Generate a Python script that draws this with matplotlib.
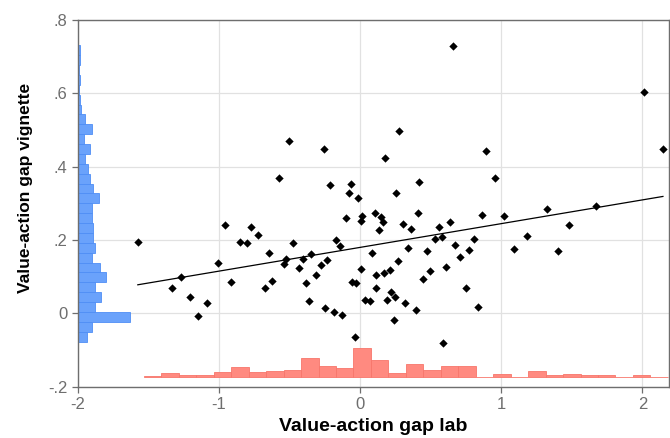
import numpy as np
import matplotlib
matplotlib.use("Agg")
import matplotlib.pyplot as plt

# =========================
# DATA
# =========================
gap_lab = [
    -0.507, -0.257, 0.174, 0.275, -0.576, -0.216, -0.062, -0.082, -0.016, 0.257,
    0.654, 2.009, 0.890, 2.145, 0.415, 0.954, -1.576, -0.956, -0.772, -0.727,
    -0.855, -0.805, -0.098, 0.013, 0.009, 0.108, 0.148, 0.162, 0.133, -0.174,
    -0.145, -0.474, -0.649, -0.528, -0.543, -0.406, -0.346, -0.233, -0.278, -0.436,
    -0.316, -0.384, 0.084, 0.006, 0.115, 0.172, 0.211, 0.268, -1.011, -1.268,
    -1.335, -1.209, -1.084, -1.148, -0.913, -0.677, -0.623, -0.360, -0.247, -0.188,
    -0.126, -0.055, -0.027, 0.034, 0.067, 0.115, 0.193, 0.216, 0.245, 0.240,
    -0.037, 0.410, 0.304, 0.358, 0.557, 0.637, 0.864, 1.016, 1.321, 1.670,
    1.479, 1.183, 1.089, 1.399, 0.530, 0.576, 0.803, 0.337, 0.470, 0.672,
    0.772, 0.708, 0.611, 0.493, 0.443, 0.318, 0.394, 0.746, 0.835, 0.590,
]
gap_vignette = [
    0.470, 0.447, 0.424, 0.498, 0.370, 0.349, 0.353, 0.328, 0.314, 0.329,
    0.730, 0.603, 0.442, 0.447, 0.359, 0.370, 0.194, 0.241, 0.235, 0.214,
    0.195, 0.191, 0.259, 0.265, 0.253, 0.274, 0.262, 0.248, 0.226, 0.200,
    0.184, 0.191, 0.164, 0.148, 0.136, 0.149, 0.163, 0.145, 0.132, 0.123,
    0.105, 0.082, 0.165, 0.120, 0.106, 0.110, 0.119, 0.142, 0.137, 0.098,
    0.070, 0.045, 0.029, -0.007, 0.085, 0.070, 0.088, 0.034, 0.014, 0.005,
    -0.004, 0.086, 0.083, 0.036, 0.034, 0.069, 0.036, 0.057, 0.045, -0.019,
    -0.064, 0.274, 0.245, 0.229, 0.235, 0.249, 0.267, 0.266, 0.285, 0.293,
    0.240, 0.211, 0.176, 0.169, 0.203, 0.207, 0.202, 0.178, 0.169, 0.187,
    0.173, 0.155, 0.127, 0.115, 0.094, 0.029, 0.009, 0.069, 0.018, -0.082,
]

# marginal histograms: 30 bins each, relative heights
vignette_range = (-0.077, 0.731)
vignette_hist = [9.3, 14, 51.7, 16.7, 23, 17.3, 27.7, 22.3, 14, 16.7,
                 15.3, 15.3, 13.7, 14, 21, 15, 11.7, 10, 6.7, 11.7,
                 5.7, 14.3, 7.3, 3.3, 1.7, 0.7, 2.3, 0.7, 2.3, 2.3]
lab_range = (-1.533, 2.18)
lab_hist = [1.7, 4, 2.7, 2.7, 5, 10, 5, 6, 7.3, 19.3,
            11.3, 9.7, 29, 17.3, 4.7, 13.3, 7.3, 11.7, 11.7, 0.7,
            3, 0.3, 6.7, 2.3, 3, 2.3, 2.3, 0.3, 2.3, 0.3]

x_ticks = [-2, -1, 0, 1, 2]
x_ticklabels = ["-2", "-1", "0", "1", "2"]
y_ticks = [-0.2, 0, 0.2, 0.4, 0.6, 0.8]
y_ticklabels = ["-.2", "0", ".2", ".4", ".6", ".8"]

# =========================
# PLOT
# =========================
plt.rcParams["font.family"] = ["Liberation Sans", "DejaVu Sans"]

fig = plt.figure(figsize=(6.7, 4.38), dpi=100)
ax = fig.add_axes([0.1164, 0.1171, 0.8821, 0.8372])

xmin, xmax = -2, 2.188
ymin, ymax = -0.2, 0.8
ax.set_xlim(xmin, xmax)
ax.set_ylim(ymin, ymax)

# vignette histogram, horizontal bars from the left edge
vb = np.linspace(vignette_range[0], vignette_range[1], len(vignette_hist) + 1)
vh = np.array(vignette_hist) / max(vignette_hist) * 0.367
ax.barh(vb[:-1], vh, height=np.diff(vb), left=xmin, align="edge",
        color="#6aa2fb", edgecolor="#4f8ef5", linewidth=0.6, zorder=2)

# lab histogram, vertical bars above the bottom
lb = np.linspace(lab_range[0], lab_range[1], len(lab_hist) + 1)
lh = np.array(lab_hist) / max(lab_hist) * 0.079
ax.bar(lb[:-1], lh, width=np.diff(lb), bottom=-0.1745, align="edge",
       color="#ff8a80", edgecolor="#f7766b", linewidth=0.6, zorder=2)

# scatter
ax.scatter(gap_lab, gap_vignette, marker="D", s=18, color="black",
           linewidths=0, zorder=4)

# linear fit
coef = np.polyfit(gap_lab, gap_vignette, 1)
xs = np.array([min(gap_lab), max(gap_lab)])
ax.plot(xs, np.polyval(coef, xs), color="black", linewidth=0.9, zorder=3)

ax.set_xticks(x_ticks)
ax.set_xticklabels(x_ticklabels)
ax.set_yticks(y_ticks)
ax.set_yticklabels(y_ticklabels)
ax.grid(True, color="#e1e1e1", linewidth=0.9, zorder=0)
ax.set_axisbelow(True)

for s in ax.spines.values():
    s.set_color("#6e6e6e")
    s.set_linewidth(1.0)
ax.tick_params(colors="#6e6e6e", labelcolor="#6e6e6e", labelsize=12,
               length=4, width=0.9)

ax.set_xlabel("Value-action gap lab", fontsize=14, fontweight="bold",
              labelpad=4)
ax.set_ylabel("Value-action gap vignette", fontsize=12.5, fontweight="bold")
ax.yaxis.set_label_coords(-0.076, 0.542)

fig.savefig("out.png", dpi=100)
